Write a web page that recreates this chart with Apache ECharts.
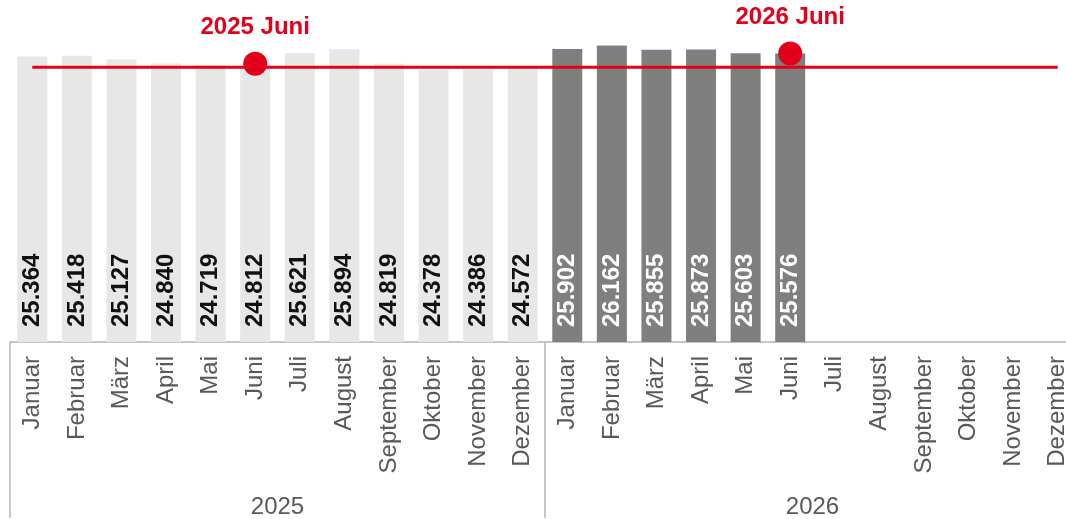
<!DOCTYPE html>
<html>
<head>
<meta charset="utf-8">
<script src="https://cdn.jsdelivr.net/npm/echarts@6/dist/echarts.min.js"></script>
<style>
  html, body { margin: 0; padding: 0; background: #fff; overflow: hidden; }
  #wrap { width: 1066px; height: 519px; overflow: hidden; position: relative; }
  #chart { width: 1080px; height: 519px; position: absolute; left: 0; top: 0; }
</style>
</head>
<body>
<div id="wrap"><div id="chart"></div></div>
<script>
const months = ['Januar', 'Februar', 'März', 'April', 'Mai', 'Juni', 'Juli', 'August', 'September', 'Oktober', 'November', 'Dezember'];
const years = ['2025', '2026'];
const values2025 = [25.364, 25.418, 25.127, 24.840, 24.719, 24.812, 25.621, 25.894, 24.819, 24.378, 24.386, 24.572];
const values2026 = [25.902, 26.162, 25.855, 25.873, 25.603, 25.576];
const referenceValue = 24.55;
const markers = [
  { year: '2025', month: 'Juni' },
  { year: '2026', month: 'Juni' }
];

const RED = '#E2001A';
const GREY_TEXT = '#595959';
const AXIS_GREY = '#C6C6C6';
const FONT = '"Liberation Sans", Arial, sans-serif';
const barColors = ['#E7E7E7', '#7F7F7F'];
const labelColors = ['#111111', '#FFFFFF'];

// 24 Kategorien: 2025 + 2026
const categories = [];
const barData = [];
years.forEach((y, yi) => {
  const vals = yi === 0 ? values2025 : values2026;
  months.forEach((m, mi) => {
    categories.push(m);
    const v = vals[mi];
    barData.push(v == null ? null : {
      value: v,
      itemStyle: { color: barColors[yi] },
      label: { color: labelColors[yi] }
    });
  });
});

const lineData = categories.map(() => referenceValue);

const dotData = categories.map(() => null);
markers.forEach(mk => {
  const yi = years.indexOf(mk.year);
  const mi = months.indexOf(mk.month);
  const vals = yi === 0 ? values2025 : values2026;
  dotData[yi * 12 + mi] = { value: vals[mi], name: mk.year + ' ' + mk.month };
});

// Diagramm etwas breiter als das Fenster, rechter Rand wird abgeschnitten
const chart = echarts.init(document.getElementById('chart'));
chart.setOption({
  animation: false,
  grid: { left: 10, right: 0, top: 0, bottom: 174, containLabel: false },
  xAxis: [
    {
      type: 'category',
      data: categories,
      axisLine: { show: true, lineStyle: { color: AXIS_GREY, width: 2 } },
      axisTick: { show: false },
      axisLabel: {
        interval: 0,
        rotate: 90,
        margin: 14,
        color: GREY_TEXT,
        fontFamily: FONT,
        fontSize: 24
      }
    },
    {
      type: 'category',
      data: years,
      position: 'bottom',
      axisLine: { show: false },
      axisTick: { show: true, length: 176, lineStyle: { color: AXIS_GREY, width: 2 } },
      axisLabel: {
        margin: 153,
        color: GREY_TEXT,
        fontFamily: FONT,
        fontSize: 24
      }
    }
  ],
  yAxis: {
    type: 'value',
    min: 4.21,
    max: 29.54,
    show: false,
    splitLine: { show: false }
  },
  series: [
    {
      type: 'bar',
      data: barData,
      barWidth: 30,
      label: {
        show: true,
        position: 'insideBottom',
        rotate: 90,
        align: 'left',
        verticalAlign: 'middle',
        distance: 15,
        fontFamily: FONT,
        fontWeight: 'bold',
        fontSize: 24,
        formatter: p => p.value.toFixed(3)
      },
      z: 2
    },
    {
      type: 'line',
      data: lineData,
      symbol: 'none',
      lineStyle: { color: RED, width: 3 },
      z: 3
    },
    {
      type: 'scatter',
      data: dotData,
      symbolSize: 24,
      itemStyle: { color: RED, opacity: 1 },
      label: {
        show: true,
        position: 'top',
        distance: 12,
        color: RED,
        fontFamily: FONT,
        fontWeight: 'bold',
        fontSize: 24,
        formatter: p => p.name
      },
      z: 4
    }
  ]
});
</script>
</body>
</html>
